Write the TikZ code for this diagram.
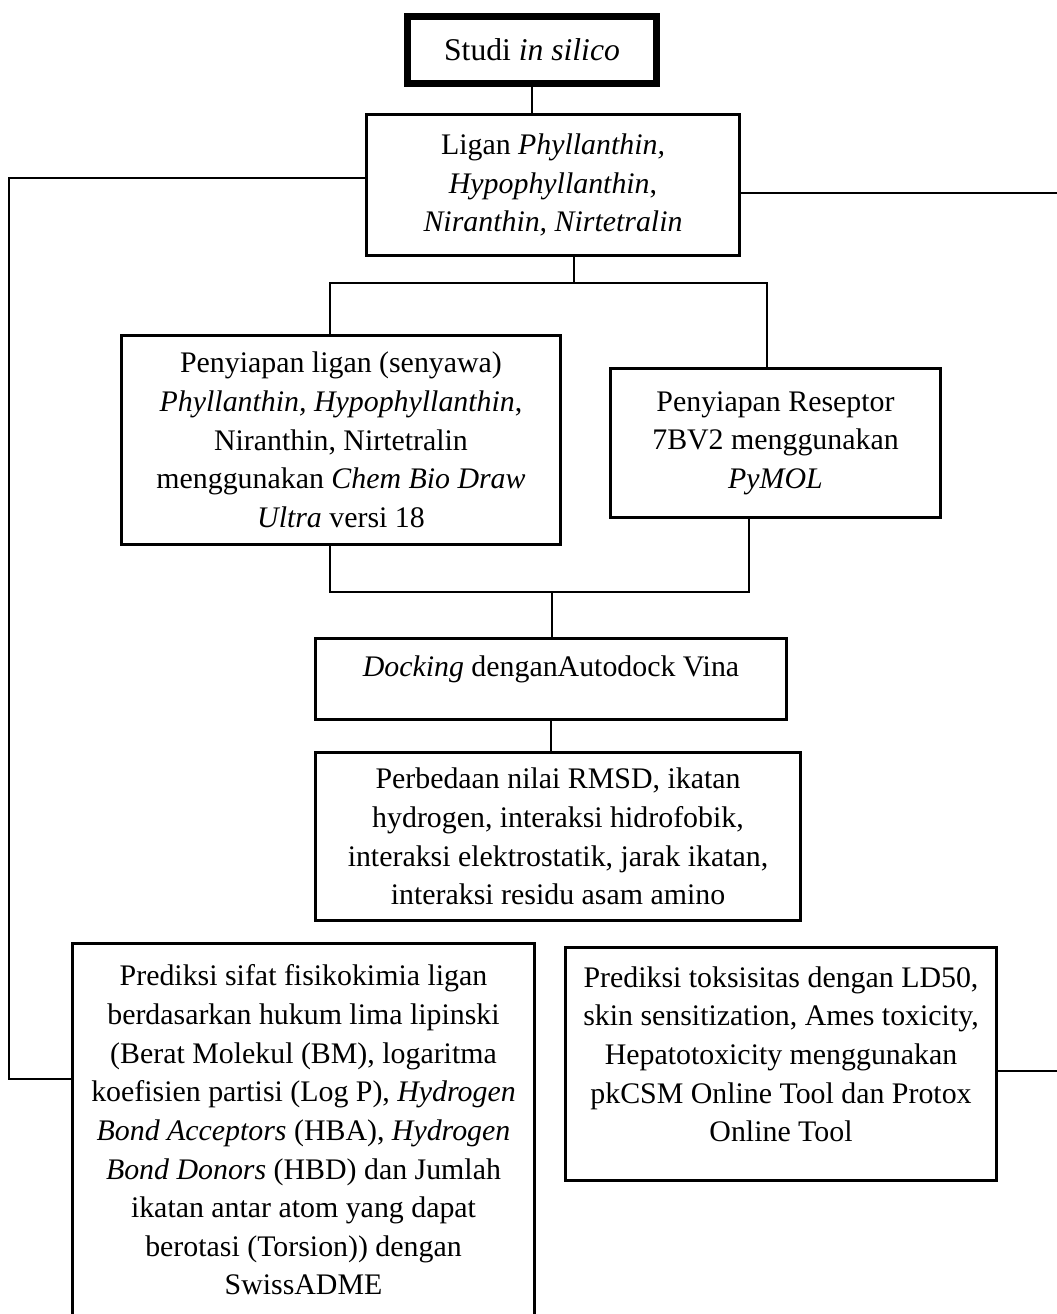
\documentclass[tikz,border=0pt]{standalone}
\usepackage{fontspec}
\setmainfont{Liberation Serif}
\usepackage{tikz}

\begin{document}
\begin{tikzpicture}[
    x=0.02cm, y=-0.02cm,
    box/.style={draw, line width=1.7pt, inner sep=0pt, align=center, font=\fontsize{17}{22}\selectfont},
    link/.style={draw, line width=0.6pt}
  ]
    \clip (0,0) rectangle (1057,1314);
    \node[box, line width=4pt, minimum width=4.98cm, minimum height=1.34cm, font=\fontsize{18}{22}\selectfont] (studi) at (532,50) {Studi \textit{in silico}};
    \node[box, minimum width=7.46cm, minimum height=2.82cm] (ligan) at (553,185) {Ligan \textit{Phyllanthin,}\\\textit{Hypophyllanthin},\\\textit{Niranthin, Nirtetralin}};
    \node[box, minimum width=8.78cm, minimum height=4.18cm] (prepLig) at (341,440) {Penyiapan ligan (senyawa)\\\textit{Phyllanthin, Hypophyllanthin},\\Niranthin, Nirtetralin\\menggunakan \textit{Chem Bio Draw}\\\textit{Ultra} versi 18};
    \node[box, minimum width=6.6cm, minimum height=2.98cm] (prepRec) at (775.5,443) {Penyiapan Reseptor\\7BV2 menggunakan\\\textit{PyMOL}};
    \node[box, minimum width=9.42cm, minimum height=1.62cm, text depth=0.5cm] (dock) at (551,679) {\textit{Docking} denganAutodock Vina};
    \node[box, minimum width=9.7cm, minimum height=3.36cm] (rmsd) at (558,836.5) {Perbedaan nilai RMSD, ikatan\\hydrogen, interaksi hidrofobik,\\interaksi elektrostatik, jarak ikatan,\\interaksi residu asam amino};
    \node[box, minimum width=9.24cm, minimum height=7.46cm] (fisiko) at (303.5,1130) {Prediksi sifat fisikokimia ligan\\berdasarkan hukum lima lipinski\\(Berat Molekul (BM), logaritma\\koefisien partisi (Log P), \textit{Hydrogen}\\\textit{Bond Acceptors} (HBA), \textit{Hydrogen}\\\textit{Bond Donors} (HBD) dan Jumlah\\ikatan antar atom yang dapat\\berotasi (Torsion)) dengan\\SwissADME};
    \node[box, minimum width=8.62cm, minimum height=4.66cm, text depth=0.4cm] (toks) at (781,1064) {Prediksi toksisitas dengan LD50,\\skin sensitization, Ames toxicity,\\Hepatotoxicity menggunakan\\pkCSM Online Tool dan Protox\\Online Tool};

    \coordinate (lbend) at (9,1079);
    \coordinate (rtop) at (1060,193);
    \coordinate (rbot) at (1060,1071);
    \coordinate (bus1) at (574,283);
    \coordinate (busL) at (330,283);
    \coordinate (busR) at (767,283);
    \coordinate (bus2) at (552,592);
    \coordinate (bus2L) at (330,592);
    \coordinate (bus2R) at (749,592);

    \draw[link] (studi.south) -- (studi.south |- ligan.north);
    \draw[link] ([yshift=0.14cm]ligan.west) -| (lbend) -- (lbend -| fisiko.west);
    \draw[link] (rtop -| ligan.east) -- (rtop);
    \draw[link] (rbot -| toks.east) -- (rbot);
    \draw[link] (ligan.south -| bus1) -- (bus1);
    \draw[link] (prepLig.north -| busL) -- (busL) -- (busR) -- (prepRec.north -| busR);
    \draw[link] (prepLig.south -| bus2L) -- (bus2L) -- (bus2R) -- (prepRec.south -| bus2R);
    \draw[link] (bus2) -- (bus2 |- dock.north);
    \draw[link] (dock.south) -- (dock.south |- rmsd.north);
  \end{tikzpicture}
\end{document}
